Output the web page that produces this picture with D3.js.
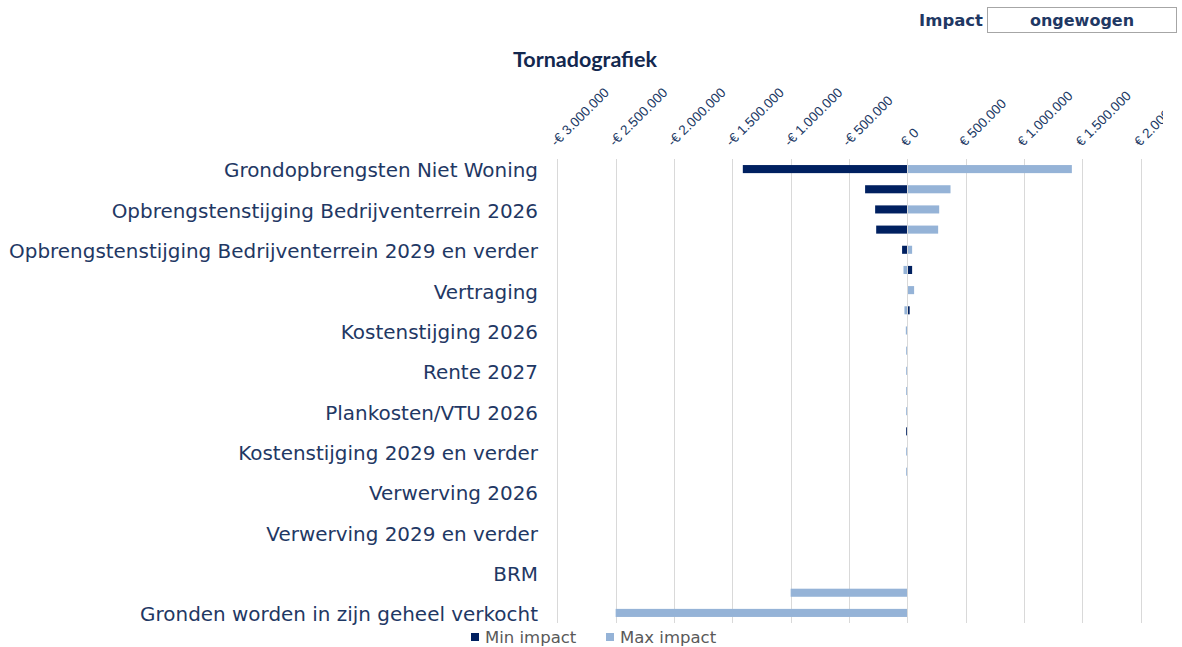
<!DOCTYPE html>
<html>
<head>
<meta charset="utf-8">
<script src="https://cdn.jsdelivr.net/npm/d3@7"></script>
<style>
  body { margin: 0; background: #fff; }
  svg { display: block; }
</style>
</head>
<body>
<svg id="chart" width="1182" height="647"></svg>
<script>
const categories = [
  'Grondopbrengsten Niet Woning',
  'Grondopbrengsten Woning',
  'Opbrengstenstijging Bedrijventerrein 2026',
  'Opbrengstenstijging Bedrijventerrein 2027',
  'Opbrengstenstijging Bedrijventerrein 2029 en verder',
  'Opbrengstenstijging Bedrijventerrein 2028',
  'Vertraging',
  'Kosten bouw- en woonrijp maken',
  'Kostenstijging 2026',
  'Rente 2026',
  'Rente 2027',
  'Rente 2028 en verder',
  'Plankosten/VTU 2026',
  'Plankosten/VTU 2029 en verder',
  'Kostenstijging 2029 en verder',
  'Kostenstijging 2027',
  'Verwerving 2026',
  'Verwerving 2027',
  'Verwerving 2029 en verder',
  'Verwerving 2028',
  'BRM',
  'Fasering',
  'Gronden worden in zijn geheel verkocht',
]
const minImpact = [
  -1410000, -362000, -276000, -267000, -45000, 41000, 0, 20000, 0, 0, 0, 0,
  0, -10000, 0, 0, 0, 0, 0, 0, 0, 0, 0,
]
const maxImpact = [
  1410000, 370000, 273000, 264000, 41000, -33000, 58000, -25000, -13000, -10000,
  -10000, -10000, -10000, 0, -10000, -10000, 0, 0, 0, 0, 0, -1000000, -2500000,
]
const seriesNames = ['Min impact', 'Max impact']
const seriesColors = ['#002060', '#95b3d7']
const axisDomain = [-3000000, 2000000]

const textColor = '#1f3864'

const nl = d3.formatLocale({
  decimal: ',',
  thousands: '.',
  grouping: [3],
  currency: ['€ ', ''],
  minus: '-',
})
const fmt = nl.format('$,.0f')

const svg = d3.select('#chart')
const plot = { left: 557.3, right: 1140.7, top: 159, bottom: 623 }

const x = d3.scaleLinear().domain(axisDomain).range([plot.left, plot.right])
const y = d3
  .scaleBand()
  .domain(categories)
  .range([plot.top, plot.bottom])
  .paddingInner(0.6)
  .paddingOuter(0.3)

// header box
svg
  .append('text')
  .attr('x', 983)
  .attr('y', 26)
  .attr('text-anchor', 'end')
  .attr('font-family', 'DejaVu Sans')
  .attr('font-weight', 'bold')
  .attr('font-size', 16.5)
  .attr('fill', textColor)
  .text('Impact')

svg
  .append('rect')
  .attr('x', 987.5)
  .attr('y', 7.5)
  .attr('width', 189)
  .attr('height', 25)
  .attr('fill', '#fff')
  .attr('stroke', '#a6a6a6')

svg
  .append('text')
  .attr('x', 1082)
  .attr('y', 26)
  .attr('text-anchor', 'middle')
  .attr('font-family', 'DejaVu Sans')
  .attr('font-weight', 'bold')
  .attr('font-size', 16)
  .attr('fill', textColor)
  .text('ongewogen')

svg
  .append('text')
  .attr('x', 585)
  .attr('y', 67)
  .attr('text-anchor', 'middle')
  .attr('font-family', 'Lato')
  .attr('font-weight', 'bold')
  .attr('font-size', 21.5)
  .attr('fill', '#13284f')
  .text('Tornadografiek')

// gridlines
const ticks = x.ticks(10)
svg
  .append('g')
  .selectAll('line')
  .data(ticks.filter((t) => t !== 0))
  .join('line')
  .attr('x1', (t) => Math.round(x(t)) + 0.5)
  .attr('x2', (t) => Math.round(x(t)) + 0.5)
  .attr('y1', plot.top)
  .attr('y2', plot.bottom)
  .attr('stroke', '#d9d9d9')

// top axis labels, rotated, clipped at the chart edge
svg.append('clipPath').attr('id', 'axclip').append('rect')
  .attr('x', 0).attr('y', 0).attr('width', 1163).attr('height', 160)

svg
  .append('g')
  .attr('clip-path', 'url(#axclip)')
  .selectAll('text')
  .data(ticks)
  .join('text')
  .attr('transform', (t) => `translate(${x(t) - 1},147) rotate(-45)`)
  .attr('font-family', 'Liberation Sans')
  .attr('font-size', 13.5)
  .attr('fill', '#203864')
  .text((t) => fmt(t))

// bars
const series = [minImpact, maxImpact]
series.forEach((vals, si) => {
  svg
    .append('g')
    .selectAll('rect')
    .data(categories.map((c, i) => ({ cat: c, value: vals[i] })))
    .join('rect')
    .attr('x', (d) => x(Math.min(0, d.value)))
    .attr('width', (d) => Math.abs(x(d.value) - x(0)))
    .attr('y', (d) => y(d.cat))
    .attr('height', y.bandwidth())
    .attr('fill', seriesColors[si])
})

// zero axis line over bars
svg
  .append('line')
  .attr('x1', Math.round(x(0)) + 0.5)
  .attr('x2', Math.round(x(0)) + 0.5)
  .attr('y1', plot.top)
  .attr('y2', plot.bottom)
  .attr('stroke', '#d9d9d9')

// category labels, every other one like Excel does
const yAxis = d3
  .axisLeft(y)
  .tickSize(0)
  .tickPadding(0)
  .tickValues(categories.filter((_, i) => i % 2 === 0))

const gy = svg
  .append('g')
  .attr('transform', 'translate(538,2)')
  .call(yAxis)
gy.select('.domain').remove()
gy.selectAll('text')
  .attr('font-family', 'DejaVu Sans')
  .attr('font-size', 19.95)
  .attr('fill', textColor)

// legend
const legend = svg
  .append('g')
  .selectAll('g')
  .data(seriesNames)
  .join('g')
  .attr('transform', (_, i) => `translate(${[471, 606][i]},633)`)

legend
  .append('rect')
  .attr('width', 8)
  .attr('height', 8)
  .attr('fill', (_, i) => seriesColors[i])

legend
  .append('text')
  .attr('x', 14)
  .attr('y', 9.5)
  .attr('font-family', 'DejaVu Sans')
  .attr('font-size', 16.5)
  .attr('fill', '#595959')
  .text((d) => d)
</script>
</body>
</html>
